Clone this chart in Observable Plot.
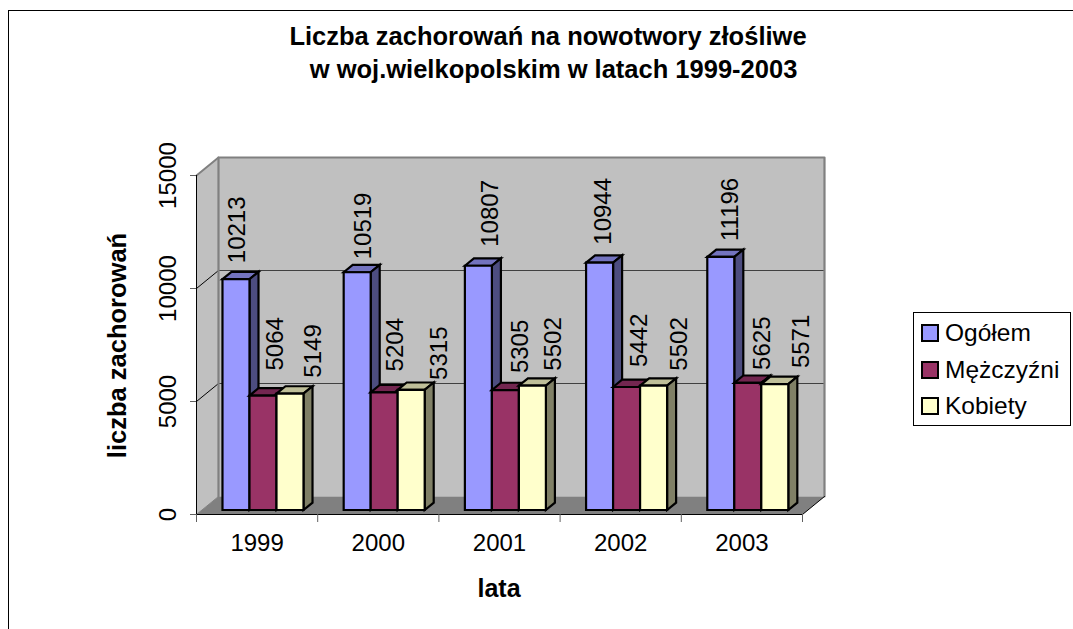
<!DOCTYPE html>
<html><head><meta charset="utf-8">
<script src="https://cdn.jsdelivr.net/npm/d3@7"></script>
<script src="https://cdn.jsdelivr.net/npm/@observablehq/plot@0.6"></script>
<style>
html,body{margin:0;padding:0;background:#fff;}
#chart{position:relative;width:1073px;height:629px;overflow:hidden;font-family:"Liberation Sans",Arial,sans-serif;color:#000;}
#chart svg{position:absolute;left:0;top:0;}
#frame{position:absolute;left:8px;top:10px;right:-5px;bottom:-5px;border:1.5px solid #000;}
#title{position:absolute;left:0;top:20px;width:1096px;text-align:center;font-weight:bold;font-size:25.5px;line-height:32.5px;white-space:pre;}
#title div:nth-child(2){position:relative;left:2px;}
#legend{position:absolute;left:913px;top:312px;width:158px;height:114px;border:1.5px solid #000;box-sizing:border-box;background:#fff;}
.row{position:absolute;left:7px;font-size:24.5px;line-height:28px;white-space:nowrap;padding-left:24px;}
.sw{position:absolute;left:0px;top:5px;width:14px;height:14px;border:2px solid #000;}
</style></head><body>
<div id="chart"><div id="frame"></div></div>
<script>
const years = [1999, 2000, 2001, 2002, 2003];
const seriesNames = ["Ogółem", "Mężczyźni", "Kobiety"];
const ogolem = [10213, 10519, 10807, 10944, 11196];
const mezczyzni = [5064, 5204, 5305, 5442, 5625];
const kobiety = [5149, 5315, 5502, 5502, 5571];
const yTicks = [0, 5000, 10000, 15000];
const titleLines = ["Liczba zachorowań na nowotwory złośliwe", " w woj.wielkopolskim w latach 1999-2003"];

const frontColors = ["#9999FF", "#993366", "#FFFFCC"];
const topColors = ["#7373BF", "#732650", "#BFBF99"];
const sideColors = ["#4D4D80", "#4D1A33", "#808066"];

// hand-placed nudges of data labels (px): the original's automatic layout moves them
const labelDx = [[1, 12, 23], [6.5, 11.5, 28.5], [11.5, 14.5, 20.5], [4, 12.5, 25.5], [9.5, 14.5, 26.5]];
const labelDy = [[16, 25, 16], [13, 21, 10], [19, 17, 15], [18, 20, 15], [16, 13, 16]];

// oblique depth, in data units of the x (category) and y (value) scales
const depthX = 0.1815, depthY = 796;
const P = (c, v, d) => ({x: c + d * depthX, y: v + d * depthY});
const barW = 0.2228, barLeft = 0.169, d0 = 0.25, d1 = 0.66;

const poly = (id, fill, pts) => pts.map(([c, v, d]) => ({id, fill, ...P(c, v, d)}));

const wall = [
  ...poly("side", "#C0C0C0", [[0,0,0],[0,15000,0],[0,15000,1],[0,0,1]]),
  ...poly("back", "#C0C0C0", [[0,0,1],[0,15000,1],[5,15000,1],[5,0,1]]),
  ...poly("floor", "#808080", [[0,0,0],[0,0,1],[5,0,1],[5,0,0]])
];
const faces = [];
const values = [ogolem, mezczyzni, kobiety];
years.forEach((yr, i) => values.forEach((vals, s) => {
  const l = i + barLeft + s * barW, r = l + barW, v = vals[i], id = yr + "-" + s;
  faces.push(...poly(id + "t", topColors[s], [[l,v,d0],[l,v,d1],[r,v,d1],[r,v,d0]]));
  faces.push(...poly(id + "s", sideColors[s], [[r,0,d0],[r,v,d0],[r,v,d1],[r,0,d1]]));
  faces.push(...poly(id + "f", frontColors[s], [[l,0,d0],[l,v,d0],[r,v,d0],[r,0,d0]]));
}));
const labels = years.flatMap((yr, i) => values.map((vals, s) => ({
  ...P(i + barLeft + (s + .5) * barW, vals[i], d0), t: String(vals[i]), dx: labelDx[i][s], dy: labelDy[i][s]
})));
const grid = [5000, 10000];

const fam = "Liberation Sans, Arial, sans-serif";
const font = {fontSize: 24, fontFamily: fam, fill: "#000"};
const plot = Plot.plot({
  width: 1073, height: 629,
  marginLeft: 196, marginRight: 271, marginTop: 175, marginBottom: 115,
  x: {type: "linear", domain: [0, 5], label: null, axis: null},
  y: {type: "linear", domain: [0, 15000], label: null, axis: null},
  color: {type: "identity"},
  style: {background: "transparent", overflow: "visible"},
  marks: [
    Plot.line(wall, {x: "x", y: "y", z: "id", fill: "fill", stroke: "none", curve: "linear-closed"}),
    Plot.line(grid.flatMap(v => [{v, ...P(0, v, 0)}, {v, ...P(0, v, 1)}]), {x: "x", y: "y", z: "v", stroke: "#000", strokeWidth: 1}),
    Plot.line(grid.flatMap(v => [{v, ...P(0, v, 1)}, {v, ...P(5, v, 1)}]), {x: "x", y: "y", z: "v", stroke: "#404040", strokeWidth: 1.2}),
    Plot.line([P(0,0,1), P(0,15000,1), P(5,15000,1), P(5,0,1)], {x: "x", y: "y", stroke: "#808080", strokeWidth: 2.2}),
    Plot.line([P(0,15000,0), P(0,15000,1)], {x: "x", y: "y", stroke: "#808080", strokeWidth: 2}),
    Plot.line([P(0,0,0), P(0,0,1)], {x: "x", y: "y", stroke: "#808080", strokeWidth: 1}),
    Plot.line([P(5,0,0), P(5,0,1)], {x: "x", y: "y", stroke: "#000", strokeWidth: 1}),
    Plot.line(faces, {x: "x", y: "y", z: "id", fill: "fill", stroke: "#000", strokeWidth: 2.2, curve: "linear-closed", strokeLinejoin: "miter", strokeMiterlimit: 4}),
    Plot.ruleX([0], {y1: 0, y2: 15000, stroke: "#000", strokeWidth: 1}),
    Plot.ruleY([0], {x1: 0, x2: 5, stroke: "#000", strokeWidth: 1}),
    Plot.axisX({ticks: [0, 1, 2, 3, 4, 5], tickSize: 8, stroke: "#606060", tickFormat: () => "", label: null}),
    Plot.axisX({ticks: years.map((y, i) => i + .5), tickSize: 0, tickPadding: 19, tickFormat: d => String(years[d - .5]), label: null, ...font}),
    Plot.axisY({ticks: yTicks, tickSize: 6, stroke: "#606060", tickRotate: -90, tickPadding: 15, textAnchor: "middle", label: null, tickFormat: d => String(d), ...font}),
    ...labels.map(l => Plot.text([l], {x: "x", y: "y", text: "t", rotate: -90, textAnchor: "start", lineAnchor: "middle", dx: l.dx, dy: -l.dy, ...font})),
    Plot.text(["liczba zachorowań"], {frameAnchor: "top-left", dx: -79, dy: 170, rotate: -90, fontWeight: "bold", fontSize: 25.5, fontFamily: fam, fill: "#000", textAnchor: "middle", lineAnchor: "middle"}),
    Plot.text(["lata"], {frameAnchor: "top-left", dx: 302.5, dy: 413, fontWeight: "bold", fontSize: 25, fontFamily: fam, fill: "#000", textAnchor: "middle", lineAnchor: "middle"})
  ]
});
const chart = document.getElementById("chart");
chart.appendChild(plot);
const title = document.createElement("div");
title.id = "title";
titleLines.forEach(t => { const d = document.createElement("div"); d.textContent = t; title.appendChild(d); });
chart.appendChild(title);
const legend = document.createElement("div");
legend.id = "legend";
seriesNames.forEach((n, i) => {
  const r = document.createElement("div");
  r.className = "row"; r.style.top = (6 + i * 36.5) + "px"; r.textContent = n;
  const s = document.createElement("span");
  s.className = "sw"; s.style.background = frontColors[i];
  r.appendChild(s); legend.appendChild(r);
});
chart.appendChild(legend);
</script>
</body></html>
